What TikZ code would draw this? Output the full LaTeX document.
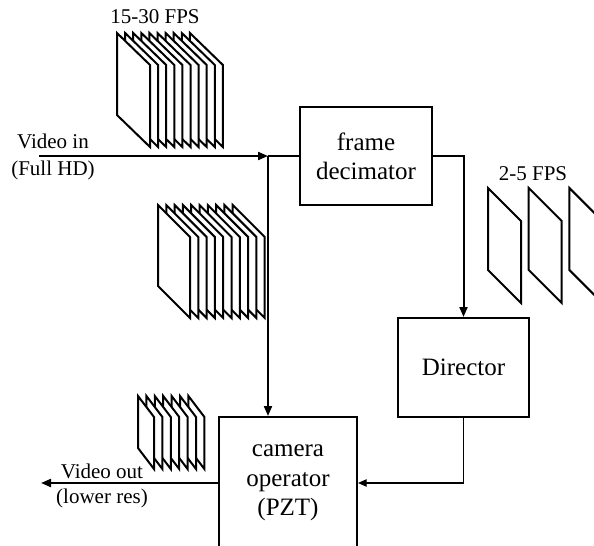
\documentclass[tikz,border=0pt]{standalone}
\usepackage{fontspec}
\setmainfont{Liberation Serif}
\usetikzlibrary{arrows.meta}
\newcommand{\vidframe}[5]{\draw[frm] (#1,#2) -- ++(#3,#4) -- ++(0,#5) -- ++(-#3,-#4) -- cycle;}
\begin{document}
\begin{tikzpicture}[x=0.75pt,y=-0.75pt,
 frm/.style={draw=black, fill=white, line width=1.5pt},
 box/.style={draw, line width=1.5pt, align=center, inner sep=0pt, font=\fontsize{18.75}{22}\selectfont},
 lbl/.style={align=center, inner sep=0pt, font=\fontsize{15.75}{19.5}\selectfont},
 conn/.style={line width=1.5pt, -{Triangle[length=7.5pt,width=6pt]}},
 thinconn/.style={line width=1pt, -{Triangle[length=6.5pt,width=5.5pt]}}
]
\useasboundingbox (0,0) rectangle (594,546);
\clip (0,0) rectangle (594,546);
% frame stacks
\foreach \i in {9,8,...,0}{\vidframe{117+8.1*\i}{33}{33}{32}{82}}
\foreach \i in {9,8,...,0}{\vidframe{158+8.3*\i}{205}{32}{32}{81}}
\foreach \i in {6,5,...,0}{\vidframe{138+8.4*\i}{396}{16}{21}{52}}
\foreach \i in {2,1,0}{\vidframe{488+40.7*\i}{188}{33}{33}{82}}
% boxes
\node[box, minimum width=99pt, minimum height=73.5pt] (dec) at (366,156) {frame\\decimator};
\node[box, minimum width=98.25pt, minimum height=74.25pt] (dir) at (463.5,367.5) {Director};
\node[box, minimum width=103.5pt, minimum height=99pt] (cam) at (288,483) {camera\\operator\\(PZT)};
% labels
\node[lbl] (fps1) at (155,17) {15-30 FPS};
\node[lbl] (fps2) at (533,174) {2-5 FPS};
\node[lbl, font=\fontsize{15.75}{20.25}\selectfont] (vin) at (53,157) {Video in\\(Full HD)};
\node[lbl, font=\fontsize{15.75}{18.75}\selectfont] (vout) at (102,486) {Video out\\(lower res)};
% connectors
\coordinate (vinstart) at (39,156);
\coordinate (junc) at (268,156);
\coordinate (voutend) at (41,483);
\draw[conn] (vinstart) -- (junc);
\draw[line width=1.5pt] (junc) -- (dec.west);
\draw[conn] (junc) -- (junc |- cam.north);
\draw[conn] (dec.east) -| (dir.north);
\draw[thinconn] (dir.south) |- (cam.east);
\draw[conn] (cam.west) -- (voutend);
\end{tikzpicture}
\end{document}
